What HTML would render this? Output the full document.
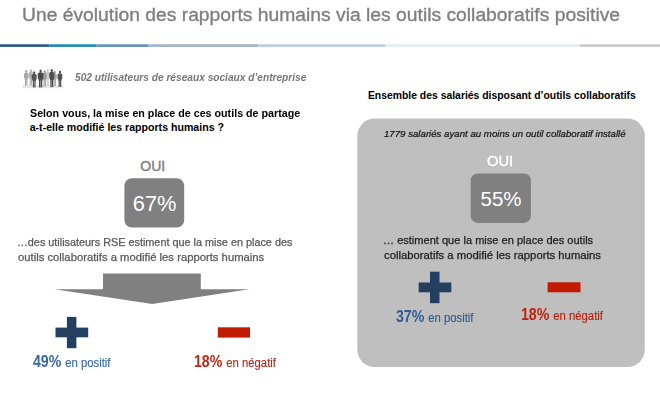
<!DOCTYPE html>
<html><head><meta charset="utf-8"><style>
html,body{margin:0;padding:0;background:#fff;}
body{width:660px;height:404px;position:relative;overflow:hidden;font-family:"Liberation Sans",sans-serif;}
.t{position:absolute;white-space:nowrap;line-height:1;transform-origin:0 0;}
.a{position:absolute;}
</style></head><body>
<svg class="a" style="left:0;top:0" width="660" height="404" viewBox="0 0 660 404">
  <defs><filter id="bl" x="-10%" y="-10%" width="120%" height="120%"><feGaussianBlur stdDeviation="0.4"/></filter></defs>
  <rect x="0" y="44.3" width="49.5" height="2.6" fill="#255589"/>
  <rect x="49.5" y="44.3" width="47" height="2.6" fill="#1b87b8"/>
  <rect x="96.5" y="44.3" width="52" height="2.6" fill="#5e90bf"/>
  <rect x="148.5" y="44.3" width="110" height="2.6" fill="#9db4ca"/>
  <rect x="258.5" y="44.3" width="126.5" height="2.6" fill="#b6cce2"/>
  <rect x="385" y="44.3" width="195" height="2.6" fill="#e2ebf5"/>
  <rect x="580" y="44.3" width="80" height="2.6" fill="#c8c8c8"/>
  <g filter="url(#bl)"><rect x="22.5" y="85.2" width="41" height="3" fill="#e6e6e6"/><ellipse cx="47.7" cy="70.60" rx="1.15" ry="1.55" fill="#cdcdcd"/><path d="M46.66,71.90 L48.75,71.90 L49.60,73.10 L49.51,77.84 L45.90,77.84 L45.80,73.10 Z" fill="#cdcdcd"/><rect x="46.64" y="77.34" width="0.99" height="8.66" fill="#cdcdcd"/><rect x="47.78" y="77.34" width="0.99" height="8.66" fill="#cdcdcd"/><rect x="46.37" y="76.84" width="2.66" height="2.55" fill="#cdcdcd"/><ellipse cx="30.9" cy="70.70" rx="1.15" ry="1.55" fill="#b2b2b2"/><path d="M29.74,72.00 L32.05,72.00 L33.00,73.20 L32.89,77.68 L28.90,77.68 L28.80,73.20 Z" fill="#b2b2b2"/><rect x="29.72" y="77.18" width="1.09" height="8.42" fill="#b2b2b2"/><rect x="30.98" y="77.18" width="1.09" height="8.42" fill="#b2b2b2"/><rect x="29.43" y="76.68" width="2.94" height="2.48" fill="#b2b2b2"/><ellipse cx="26.2" cy="71.60" rx="1.15" ry="1.55" fill="#a7a7a7"/><path d="M24.93,72.90 L27.46,72.90 L28.50,74.10 L28.38,78.11 L24.02,78.11 L23.90,74.10 Z" fill="#a7a7a7"/><rect x="24.91" y="77.61" width="1.20" height="7.99" fill="#a7a7a7"/><rect x="26.29" y="77.61" width="1.20" height="7.99" fill="#a7a7a7"/><rect x="24.59" y="77.11" width="3.22" height="2.34" fill="#a7a7a7"/><ellipse cx="44.7" cy="71.80" rx="1.15" ry="1.55" fill="#a0a0a0"/><path d="M43.55,73.10 L45.86,73.10 L46.80,74.30 L46.70,78.68 L42.71,78.68 L42.60,74.30 Z" fill="#a0a0a0"/><rect x="43.52" y="78.18" width="1.09" height="8.32" fill="#a0a0a0"/><rect x="44.78" y="78.18" width="1.09" height="8.32" fill="#a0a0a0"/><rect x="43.23" y="77.68" width="2.94" height="2.44" fill="#a0a0a0"/><ellipse cx="54.8" cy="72.40" rx="1.15" ry="1.55" fill="#a8a8a8"/><path d="M53.64,73.70 L55.95,73.70 L56.90,74.90 L56.79,78.70 L52.80,78.70 L52.70,74.90 Z" fill="#a8a8a8"/><rect x="53.62" y="78.20" width="1.09" height="7.80" fill="#a8a8a8"/><rect x="54.88" y="78.20" width="1.09" height="7.80" fill="#a8a8a8"/><rect x="53.33" y="77.70" width="2.94" height="2.28" fill="#a8a8a8"/><ellipse cx="34.2" cy="72.80" rx="1.15" ry="1.55" fill="#545454"/><path d="M32.83,74.10 L35.58,74.10 L36.70,75.30 L36.58,79.62 L31.83,79.62 L31.70,75.30 Z" fill="#545454"/><rect x="32.80" y="79.12" width="1.30" height="8.28" fill="#545454"/><rect x="34.30" y="79.12" width="1.30" height="8.28" fill="#545454"/><rect x="32.45" y="78.62" width="3.50" height="2.43" fill="#545454"/><ellipse cx="40.6" cy="71.10" rx="1.15" ry="1.55" fill="#4b4b4b"/><path d="M39.01,72.40 L42.20,72.40 L43.50,73.60 L43.36,78.81 L37.84,78.81 L37.70,73.60 Z" fill="#4b4b4b"/><rect x="38.98" y="78.31" width="1.51" height="9.09" fill="#4b4b4b"/><rect x="40.72" y="78.31" width="1.51" height="9.09" fill="#4b4b4b"/><rect x="38.57" y="77.81" width="4.06" height="2.69" fill="#4b4b4b"/><ellipse cx="51.8" cy="70.60" rx="1.15" ry="1.55" fill="#4f4f4f"/><path d="M50.37,71.90 L53.23,71.90 L54.40,73.10 L54.27,78.41 L49.33,78.41 L49.20,73.10 Z" fill="#4f4f4f"/><rect x="50.34" y="77.91" width="1.35" height="9.19" fill="#4f4f4f"/><rect x="51.90" y="77.91" width="1.35" height="9.19" fill="#4f4f4f"/><rect x="49.98" y="77.41" width="3.64" height="2.71" fill="#4f4f4f"/><ellipse cx="59.9" cy="72.10" rx="1.15" ry="1.55" fill="#525252"/><path d="M58.58,73.40 L61.22,73.40 L62.30,74.60 L62.18,78.98 L57.62,78.98 L57.50,74.60 Z" fill="#525252"/><rect x="58.56" y="78.48" width="1.25" height="8.32" fill="#525252"/><rect x="60.00" y="78.48" width="1.25" height="8.32" fill="#525252"/><rect x="58.22" y="77.98" width="3.36" height="2.44" fill="#525252"/></g>
  <rect x="124.4" y="178.3" width="59.8" height="49.1" rx="7.5" fill="#808080"/>
  <polygon points="103,273.5 200.8,273.5 200.8,289.2 249.3,289.2 152.2,304.1 54.6,289.2 103,289.2" fill="#808080"/>
  <rect x="66.9" y="316.9" width="9.5" height="31.3" fill="#243f60"/>
  <rect x="55.5" y="327.6" width="32.7" height="9.7" fill="#243f60"/>
  <rect x="217.8" y="327.3" width="32.2" height="10.3" fill="#c01a00"/>
  <rect x="357.3" y="118.5" width="287.5" height="248.6" rx="17.5" fill="#bfbfbf"/>
  <rect x="470.7" y="173.4" width="60.2" height="49.5" rx="7" fill="#808080"/>
  <rect x="430" y="271.7" width="9.5" height="31.5" fill="#243f60"/>
  <rect x="418.7" y="282.5" width="32.6" height="9.8" fill="#243f60"/>
  <rect x="547.6" y="282.3" width="32.9" height="10" fill="#c01a00"/>
</svg>
<div class="t" style="left:22.2px;top:5.25px;font-size:19.2px;font-weight:400;font-style:normal;color:#7f7f7f;-webkit-text-stroke:0.35px #7f7f7f;transform:scaleX(1.005);">Une évolution des rapports humains via les outils collaboratifs positive</div>
<div class="t" style="left:74.6px;top:71.54px;font-size:10.7px;font-weight:700;font-style:italic;color:#777777;transform:scaleX(0.95);">502 utilisateurs de réseaux sociaux d’entreprise</div>
<div class="t" style="left:29.7px;top:107.73px;font-size:10.6px;font-weight:700;font-style:normal;color:#000000;transform:scaleX(1.011);">Selon vous, la mise en place de ces outils de partage</div>
<div class="t" style="left:29.7px;top:121.83px;font-size:10.6px;font-weight:700;font-style:normal;color:#000000;">a-t-elle modifié les rapports humains ?</div>
<div class="t" style="left:140.3px;top:159.35px;font-size:14.0px;font-weight:400;font-style:normal;color:#7f7f7f;-webkit-text-stroke:0.45px #7f7f7f;">OUI</div>
<div class="t" style="left:132.8px;top:192.55px;font-size:21.8px;font-weight:400;font-style:normal;color:#ffffff;">67%</div>
<div class="t" style="left:17.0px;top:236.86px;font-size:10.8px;font-weight:400;font-style:normal;color:#585858;-webkit-text-stroke:0.25px #585858;transform:scaleX(1.004);">…des utilisateurs RSE estiment que la mise en place des</div>
<div class="t" style="left:18.0px;top:251.66px;font-size:10.8px;font-weight:400;font-style:normal;color:#585858;-webkit-text-stroke:0.25px #585858;transform:scaleX(1.044);">outils collaboratifs a modifié les rapports humains</div>
<div class="t" style="left:367.9px;top:90.70px;font-size:10.4px;font-weight:700;font-style:normal;color:#000000;">Ensemble des salariés disposant d’outils collaboratifs</div>
<div class="t" style="left:384.1px;top:128.54px;font-size:9.4px;font-weight:400;font-style:italic;color:#111111;-webkit-text-stroke:0.2px #111;transform:scaleX(1.03);">1779 salariés ayant au moins un outil collaboratif installé</div>
<div class="t" style="left:486.5px;top:154.45px;font-size:14.0px;font-weight:400;font-style:normal;color:#ffffff;-webkit-text-stroke:0.45px #fff;transform:scaleX(1.05);">OUI</div>
<div class="t" style="left:480.5px;top:189.05px;font-size:20.5px;font-weight:400;font-style:normal;color:#ffffff;">55%</div>
<div class="t" style="left:382.6px;top:235.07px;font-size:10.9px;font-weight:400;font-style:normal;color:#1c1c1c;-webkit-text-stroke:0.25px #1c1c1c;transform:scaleX(1.015);">… estiment que la mise en place des outils</div>
<div class="t" style="left:383.5px;top:249.57px;font-size:10.9px;font-weight:400;font-style:normal;color:#1c1c1c;-webkit-text-stroke:0.25px #1c1c1c;transform:scaleX(1.036);">collaboratifs a modifié les rapports humains</div>
<div class="t" style="left:32.8px;top:353.93px;font-size:15.8px;color:#3768a6;transform:scaleX(0.895)"><b>49%</b> <span style="font-size:12.65px;-webkit-text-stroke:0.15px #3768a6">en positif</span></div>
<div class="t" style="left:193.6px;top:354.13px;font-size:15.8px;color:#c0261a;transform:scaleX(0.895)"><b>18%</b> <span style="font-size:12.65px;-webkit-text-stroke:0.15px #c0261a">en négatif</span></div>
<div class="t" style="left:396.0px;top:308.83px;font-size:15.8px;color:#2f5b93;transform:scaleX(0.895)"><b>37%</b> <span style="font-size:12.65px;-webkit-text-stroke:0.15px #2f5b93">en positif</span></div>
<div class="t" style="left:521.3px;top:307.33px;font-size:15.8px;color:#c0200f;transform:scaleX(0.895)"><b>18%</b> <span style="font-size:12.65px;-webkit-text-stroke:0.15px #c0200f">en négatif</span></div>
</body></html>
